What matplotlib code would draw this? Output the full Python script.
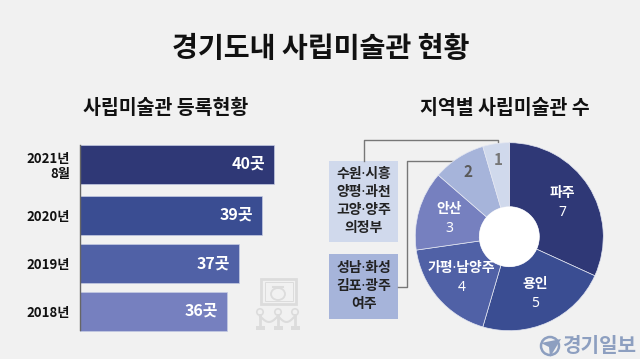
import numpy as np
import matplotlib.pyplot as plt
from matplotlib.patches import Rectangle, Circle, Ellipse, Polygon

plt.rcParams['font.family'] = ['Noto Sans CJK KR', 'DejaVu Sans']

W, H = 640, 359
BG = '#f1f1f1'
NARROW_DOT = ['Noto Sans', 'Noto Sans CJK KR']

# bar chart data
years = ['2021년\n8월', '2020년', '2019년', '2018년']
counts = [40, 39, 37, 36]
bar_colors = ['#2f3876', '#3a4d92', '#5061a6', '#7680bf']

# donut data
regions = ['파주', '용인', '가평·남양주', '안산', '', '']
region_counts = [7, 5, 4, 3, 2, 1]
pie_colors = ['#2f3876', '#3a4d92', '#5061a6', '#7680bf', '#a6b4da', '#d0d9ec']
pie_text_colors = ['white', 'white', 'white', 'white', '#5a5a5a', '#777777']

box1_lines = '수원·시흥\n양평·과천\n고양·양주\n의정부'
box2_lines = '성남·화성\n김포·광주\n여주'


def px_axes(fig, x0, y0, x1, y1):
    # axes from pixel box, y measured from the top
    return fig.add_axes([x0 / W, 1 - y1 / H, (x1 - x0) / W, (y1 - y0) / H])


fig = plt.figure(figsize=(6.4, 3.59), dpi=100, facecolor=BG)

# overlay in pixel coordinates
bg = fig.add_axes([0, 0, 1, 1])
bg.set_xlim(0, W)
bg.set_ylim(H, 0)
bg.axis('off')

bg.text(321, 49, '경기도내 사립미술관 현황', fontsize=20.3, fontweight='bold',
        color='#111111', ha='center', va='center')
bg.text(165.5, 108, '사립미술관 등록현황', fontsize=14, fontweight='bold',
        color='#111111', ha='center', va='center')
bg.text(505, 108, '지역별 사립미술관 수', fontsize=14, fontweight='bold',
        color='#111111', ha='center', va='center')

# bars, the scale does not start at zero
ax = px_axes(fig, 80, 140, 290, 335)
ax.set_xlim(23.5, 23.5 + 210 / 11.75)
ax.set_ylim(335, 140)
ax.patch.set_alpha(0)
bar_y = [164, 215, 263.5, 311]
ax.barh(bar_y, counts, height=39, color=bar_colors, edgecolor='#c5cbe3', linewidth=0.5)
for y, c in zip(bar_y, counts):
    ax.text(c - 0.75, y, f'{c}곳', color='white', fontsize=11.5, fontweight='bold',
            ha='right', va='center')
ax.set_yticks(bar_y)
ax.set_yticklabels(years, fontsize=9.5, fontweight='bold', color='#111111', linespacing=1.1)
ax.tick_params(axis='y', length=0, pad=7)
ax.set_xticks([])
for s in ['top', 'right', 'bottom']:
    ax.spines[s].set_visible(False)
ax.spines['left'].set_color('#666666')
ax.spines['left'].set_linewidth(1)
ax.spines['left'].set_bounds(330, 145)

# picture frame icon
icon = '#dcdcdc'
bg.add_patch(Rectangle((261, 279), 35, 25, fill=False, ec=icon, lw=2))
bg.add_patch(Rectangle((264.5, 282), 28, 19, fill=False, ec=icon, lw=0.7))
bg.add_patch(Ellipse((278, 294), 14, 12, fill=False, ec=icon, lw=1.3))
bg.plot([273, 283], [286.5, 286.5], color=icon, lw=1.5)
for x in [260, 278, 295]:
    bg.add_patch(Circle((x, 312), 3.2, fc='none', ec=icon, lw=1.2))
    bg.plot([x, x], [315, 327], color=icon, lw=2)
    bg.add_patch(Rectangle((x - 4.5, 326), 9, 4, fc=icon, ec='none'))
rope_t = np.linspace(0, 1, 20)
for a, b in [(260, 278), (278, 295)]:
    bg.plot(a + (b - a) * rope_t, 316 + 6 * np.sin(np.pi * rope_t), color=icon, lw=1.5)

# connectors and boxes
line = '#777777'
bg.plot([364, 364, 498, 498], [161, 140, 140, 146], color=line, lw=1)
bg.plot([398, 407, 407, 454], [287, 287, 161, 161], color=line, lw=1)
bg.add_patch(Rectangle((329, 161), 69, 81, fc='#d0d9ec', ec='none'))
bg.add_patch(Rectangle((329, 254), 69, 65, fc='#a6b4da', ec='none'))
bg.text(363.5, 201.5, box1_lines, fontsize=10, fontweight='bold', color='#222222',
        family=NARROW_DOT, ha='center', va='center', linespacing=1.28)
bg.text(363.5, 286.5, box2_lines, fontsize=10, fontweight='bold', color='#222222',
        family=NARROW_DOT, ha='center', va='center', linespacing=1.28)

# donut
cx, cy, r = 509.3, 236.7, 94
pie = px_axes(fig, cx - r, cy - r, cx + r, cy + r)
pie.pie(region_counts, colors=pie_colors, startangle=90, counterclock=False, radius=1,
        wedgeprops=dict(width=1 - 30 / 94, edgecolor='#e4e7f2', linewidth=0.5))
pie.add_patch(Circle((0, 0), 30 / 94, fc='white', ec='none'))
pie.set_xlim(-1, 1)
pie.set_ylim(-1, 1)
total = sum(region_counts)
cum = 0
for name, v, tc in zip(regions, region_counts, pie_text_colors):
    ang = np.deg2rad(90 - (cum + v / 2) / total * 360)
    cum += v
    rr = 0.82 if v <= 2 else 0.67
    label = f'{name}\n{v}' if name else str(v)
    pie.text(rr * np.cos(ang), rr * np.sin(ang), label, color=tc, fontsize=10 if name else 11,
             fontweight='bold', family=NARROW_DOT if name else ['Noto Sans CJK KR'],
             ha='center', va='center', linespacing=1.35)

# logo
logo = '#8d9fc0'
bg.add_patch(Circle((550, 346), 9, fill=False, ec=logo, lw=1.8))
bg.add_patch(Polygon([(541, 343), (561, 339), (550, 357), (549, 347)], fc=logo, ec='none'))
bg.text(599, 345.5, '경기일보', fontsize=14.5, fontweight='black', color=logo,
        ha='center', va='center')

fig.savefig('out.png', dpi=100, facecolor=BG)
